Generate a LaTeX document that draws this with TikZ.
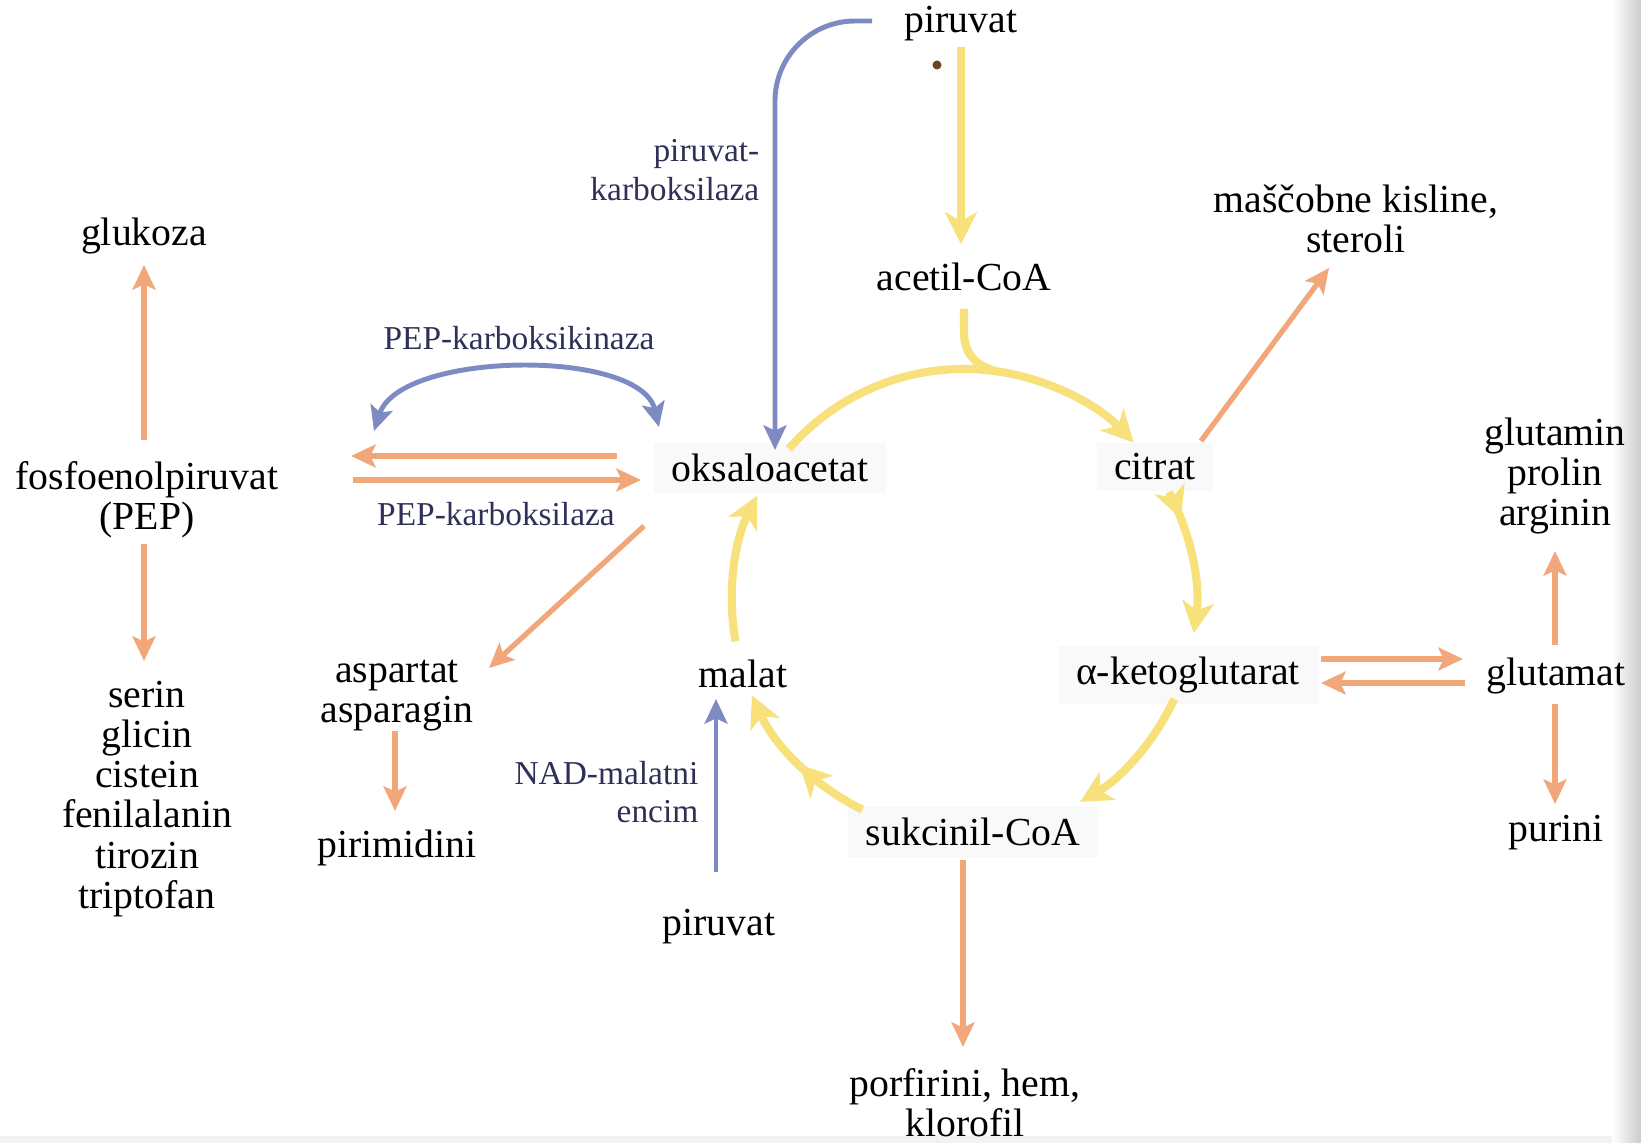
\documentclass[tikz,border=0pt]{standalone}
\usepackage{fontspec}
\setmainfont{Liberation Serif}
\usetikzlibrary{arrows.meta,decorations.markings}
\definecolor{orng}{HTML}{F2A77B}
\definecolor{ylw}{HTML}{F8E07A}
\definecolor{blu}{HTML}{7D8BC2}
\definecolor{lbl}{HTML}{2E3057}
\begin{document}
\begin{tikzpicture}[x=0.01cm,y=-0.01cm,
  every node/.style={inner sep=0pt, font=\fontsize{11.3}{11.4}\selectfont, align=center},
  cyc/.style={fill=black!2.5, inner xsep=5pt, inner ysep=3pt},
  lab/.style={text=lbl, font=\fontsize{9.5}{11}\selectfont},
  oarr/.style={draw=orng, line width=1.5pt, -{Stealth[length=7pt,width=6.5pt,inset=1.5pt]}},
  barr/.style={draw=blu, line width=1.4pt, -{Stealth[length=7pt,width=6.5pt,inset=1.5pt]}},
  bdarr/.style={draw=blu, line width=1.4pt, {Stealth[length=7pt,width=6.5pt,inset=1.5pt]}-{Stealth[length=7pt,width=6.5pt,inset=1.5pt]}},
  ytip/.tip={Stealth[length=9pt,width=9pt,inset=2.5pt]},
  yarr/.style={draw=ylw, line width=2.3pt, -ytip},
  yline/.style={draw=ylw, line width=2.3pt},
  midbarb/.style={postaction={decorate}, decoration={markings, mark=at position #1 with {\arrow[ylw]{ytip}}}}
]
% canvas with the shaded page edges
\fill[white] (0,0) rectangle (1641,1143);
\fill[black!5] (0,1136) rectangle (1641,1143);
\shade[left color=white, right color=black!20] (1612,0) rectangle (1641,1143);

% metabolites
\node (pirT) at (961,24) {piruvat};
\node (acetil) at (964,277) {acetil-CoA};
\node (fatty) at (1356,219) {maščobne kisline,\\steroli};
\node (glukoza) at (144,236) {glukoza};
\node (pep) at (147,500) {fosfoenolpiruvat\\(PEP)};
\node[cyc] (oksalo) at (770,468) {oksaloacetat};
\node[cyc] (citrat) at (1155,467) {citrat};
\node (glnpro) at (1555,476) {glutamin\\prolin\\arginin};
\node[cyc] (akg) at (1188,675) {α-ketoglutarat};
\node (glu) at (1556,676) {glutamat};
\node (purini) at (1556,833) {purini};
\node[cyc] (sukc) at (973,832) {sukcinil-CoA};
\node (malat) at (743,674) {malat};
\node (asp) at (397,696) {aspartat\\asparagin};
\node (pirim) at (397,848) {pirimidini};
\node (amino) at (147,799) {serin\\glicin\\cistein\\fenilalanin\\tirozin\\triptofan};
\node (pirB) at (719,927) {piruvat};
\node (porf) at (965,1103) {porfirini, hem,\\klorofil};

% enzyme labels
\node[lab, anchor=east, align=right] (lPC) at (760,170) {piruvat-\\karboksilaza};
\node[lab] (lPEPCK) at (519,338) {PEP-karboksikinaza};
\node[lab] (lPEPC) at (496,514) {PEP-karboksilaza};
\node[lab, anchor=east, align=right] (lNAD) at (699,792) {NAD-malatni\\encim};

% centre of the cycle
\coordinate (cyc) at (964,601);

% citric acid cycle
\draw[yarr] ([shift={(0,23)}]pirT.center) -- ([shift={(-3,-33)}]acetil.center);
\draw[yline] ([shift={(0,32)}]acetil.center) -- ([shift={(0,55)}]acetil.center)
  .. controls ([shift={(0,79)}]acetil.center) and ([shift={(14,89)}]acetil.center) .. ([shift={(-82:232)}]cyc);
\draw[yarr] ([shift={(-139:232)}]cyc) arc[start angle=-139, end angle=-43, radius=232];
\draw[yarr, midbarb=0.2] ([shift={(-28:232)}]cyc) arc[start angle=-28, end angle=8, radius=232];
\draw[yarr] ([shift={(25:232)}]cyc) arc[start angle=25, end angle=60, radius=232];
\draw[yarr, midbarb=0.48] ([shift={(116:232)}]cyc) arc[start angle=116, end angle=156, radius=232];
\draw[yarr] ([shift={(170:232)}]cyc) arc[start angle=170, end angle=207, radius=232];

% anaplerotic reactions
\draw[barr, rounded corners=0.8cm] ([shift={(-89,-3)}]pirT.center) -| ([shift={(5,-18)}]oksalo.center);
\draw[bdarr] ([shift={(-111,-41)}]oksalo.center) .. controls ([shift={(-130,-120)}]oksalo.center)
  and ([shift={(253,-149)}]pep.center) .. ([shift={(227,-69)}]pep.center);
\draw[barr] ([shift={(-3,-55)}]pirB.center) -- ([shift={(-27,25)}]malat.center);

% biosynthetic branches
\draw[oarr] ([shift={(-3,-60)}]pep.center) -- ([shift={(0,29)}]glukoza.center);
\draw[oarr] ([shift={(-3,44)}]pep.center) -- ([shift={(-3,-138)}]amino.center);
\draw[oarr] ([shift={(-153,-12)}]oksalo.center) -- ([shift={(204,-44)}]pep.center);
\draw[oarr] ([shift={(206,-20)}]pep.center) -- ([shift={(-129,12)}]oksalo.center);
\draw[oarr] ([shift={(-126,58)}]oksalo.center) -- ([shift={(92,-28)}]asp.center);
\draw[oarr] ([shift={(-2,35)}]asp.center) -- ([shift={(-2,-37)}]pirim.center);
\draw[oarr] ([shift={(46,-26)}]citrat.center) -- ([shift={(-27,49)}]fatty.center);
\draw[oarr] ([shift={(133,-16)}]akg.center) -- ([shift={(-93,-17)}]glu.center);
\draw[oarr] ([shift={(-91,7)}]glu.center) -- ([shift={(133,8)}]akg.center);
\draw[oarr] ([shift={(-1,-31)}]glu.center) -- ([shift={(0,75)}]glnpro.center);
\draw[oarr] ([shift={(-1,28)}]glu.center) -- ([shift={(-1,-29)}]purini.center);
\draw[oarr] ([shift={(-10,28)}]sukc.center) -- ([shift={(-2,-56)}]porf.center);

% small speck beside the upper piruvat
\fill[brown!55!black] (937,65) circle[radius=4.5];
\end{tikzpicture}
\end{document}
